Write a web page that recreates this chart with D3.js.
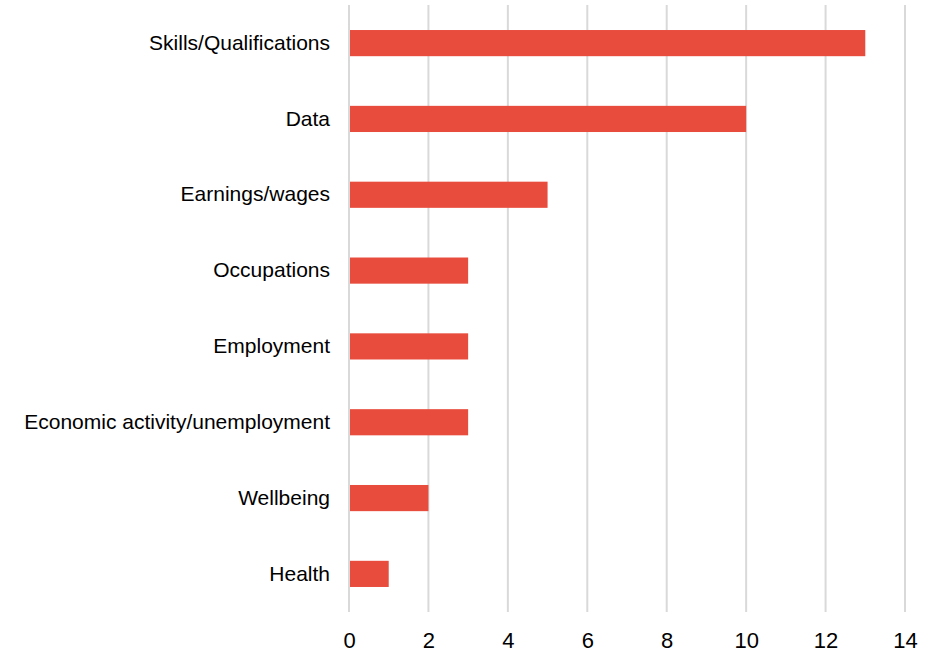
<!DOCTYPE html>
<html>
<head>
<meta charset="utf-8">
<script src="https://cdn.jsdelivr.net/npm/d3@7"></script>
<style>
  html, body { margin: 0; padding: 0; background: #fff; }
  svg text { font-family: "Liberation Sans", Arial, sans-serif; fill: #000; }
</style>
</head>
<body>
<svg id="chart" width="934" height="652"></svg>
<script>
// Number of mentions per topic
const categories = [
  "Skills/Qualifications",
  "Data",
  "Earnings/wages",
  "Occupations",
  "Employment",
  "Economic activity/unemployment",
  "Wellbeing",
  "Health"
];
const counts = [13, 10, 5, 3, 3, 3, 2, 1];
const xTicks = [0, 2, 4, 6, 8, 10, 12, 14];

const svg = d3.select("#chart");
const margin = { top: 5, right: 29, bottom: 40, left: 349 };
const width = 934 - margin.left - margin.right;
const height = 652 - margin.top - margin.bottom;

const g = svg.append("g").attr("transform", `translate(${margin.left},${margin.top})`);

const x = d3.scaleLinear().domain([0, 14]).range([0, width]);
const y = d3.scaleBand().domain(categories).range([0, height]).paddingInner(0.655).paddingOuter(0.33);

// vertical gridlines
g.selectAll("line.grid")
  .data(xTicks)
  .join("line")
  .attr("class", "grid")
  .attr("x1", d => x(d)).attr("x2", d => x(d))
  .attr("y1", 0).attr("y2", height)
  .attr("stroke", "#d9d9d9")
  .attr("stroke-width", 2);

// bars
g.selectAll("rect.bar")
  .data(categories)
  .join("rect")
  .attr("class", "bar")
  .attr("x", x(0) + 1)
  .attr("y", d => y(d))
  .attr("width", (d, i) => x(counts[i]) - x(0) - 1)
  .attr("height", y.bandwidth())
  .attr("fill", "#e84c3d");

// category labels
const yAxis = d3.axisLeft(y).tickSize(0).tickPadding(19);
const ya = g.append("g").call(yAxis);
ya.select(".domain").remove();
ya.selectAll("text").attr("font-size", 21).attr("font-family", "Liberation Sans, Arial, sans-serif");

// value axis labels
const xAxis = d3.axisBottom(x).tickValues(xTicks).tickSize(0).tickPadding(20);
const xa = g.append("g").attr("transform", `translate(0,${height})`).call(xAxis);
xa.select(".domain").remove();
xa.selectAll("text").attr("font-size", 22).attr("font-family", "Liberation Sans, Arial, sans-serif");
</script>
</body>
</html>
